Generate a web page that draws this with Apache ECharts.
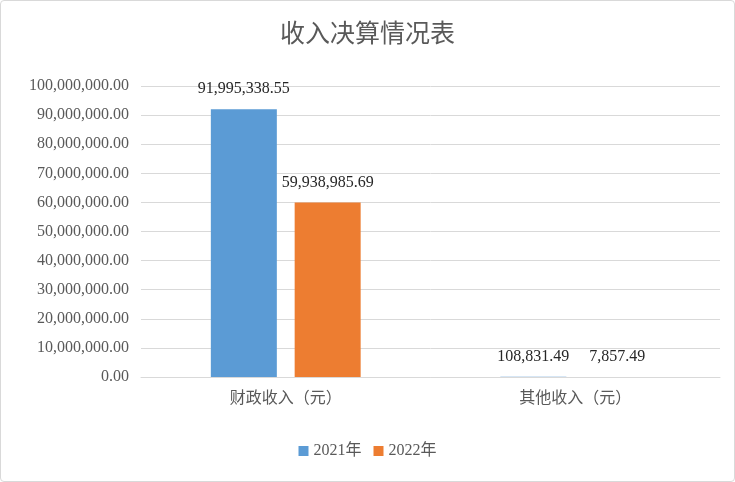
<!DOCTYPE html>
<html><head><meta charset="utf-8">
<script src="https://cdn.jsdelivr.net/npm/echarts@6/dist/echarts.min.js"></script>
<style>html,body{margin:0;padding:0;background:#fff}#c{width:735px;height:482px;box-sizing:border-box;border:1px solid #d9d9d9;border-radius:4px}</style>
</head><body><div id="c"></div>
<script>
const categories = ['财政收入（元）', '其他收入（元）'];
const series2021 = [91995338.55, 108831.49];
const series2022 = [59938985.69, 7857.49];
const seriesNames = ['2021年', '2022年'];
const fmt = v => Number(v).toLocaleString('en-US', {minimumFractionDigits: 2, maximumFractionDigits: 2});
const FONT = '"Liberation Serif","Noto Sans CJK SC",serif';
const chart = echarts.init(document.getElementById('c'));
chart.setOption({
  animation: false,
  textStyle: {fontFamily: FONT},
  title: {text: '收入决算情况表', left: 'center', top: 14,
    textStyle: {fontFamily: '"Noto Sans CJK SC",sans-serif', fontWeight: 'normal', fontSize: 25, color: '#595959'}},
  legend: {bottom: 17, itemWidth: 10, itemHeight: 10, icon: 'rect', itemGap: 12,
    textStyle: {fontFamily: FONT, fontSize: 16, color: '#595959'}},
  grid: {left: 140, right: 14, top: 85, bottom: 104, containLabel: false},
  xAxis: {type: 'category', data: categories,
    axisLine: {lineStyle: {color: '#d9d9d9'}}, axisTick: {show: false},
    axisLabel: {fontSize: 16, color: '#595959', fontFamily: '"Noto Sans CJK SC",sans-serif', margin: 12}},
  yAxis: {type: 'value', min: 0, max: 100000000, interval: 10000000,
    axisLabel: {formatter: fmt, fontSize: 16, color: '#595959', margin: 12},
    splitLine: {lineStyle: {color: '#d9d9d9'}}, axisLine: {show: false}},
  series: [
    {name: seriesNames[0], type: 'bar', data: series2021, barWidth: 66, barGap: '27%',
     itemStyle: {color: '#5b9bd5'},
     label: {show: true, position: 'top', formatter: p => fmt(p.value), fontSize: 16, color: '#262626', distance: 12}},
    {name: seriesNames[1], type: 'bar', data: series2022, barWidth: 66,
     itemStyle: {color: '#ed7d31'},
     label: {show: true, position: 'top', formatter: p => fmt(p.value), fontSize: 16, color: '#262626', distance: 12}}
  ]
});
</script></body></html>
